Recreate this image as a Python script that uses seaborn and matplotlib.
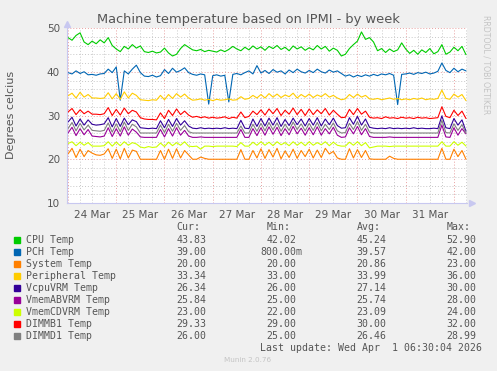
import numpy as np
import pandas as pd
import seaborn as sns
import matplotlib.pyplot as plt
import matplotlib.dates as mdates
from matplotlib.ticker import MultipleLocator, NullFormatter, FuncFormatter

# 2-hourly samples
times = pd.date_range("2026-03-24 00:00", periods=100, freq="2h")

cpu = [47.8, 47.2, 48.3, 48.9, 46.8, 46.2, 47.0, 46.4, 47.3, 46.6, 47.8, 46.0,
       45.2, 44.6, 45.8, 45.2, 46.2, 45.4, 45.9, 44.6, 44.4, 44.7, 44.3, 44.5,
       45.4, 44.3, 43.6, 44.0, 45.3, 46.2, 45.6, 45.0, 44.8, 45.1, 44.6, 44.9,
       44.7, 44.5, 45.0, 44.6, 45.1, 45.8, 45.2, 44.8, 45.6, 45.0, 45.9, 45.2,
       45.7, 44.9, 45.8, 45.3, 46.0, 45.1, 45.6, 44.8, 45.9, 45.2, 45.7, 44.9,
       45.5, 45.0, 46.0, 45.2, 45.8, 44.7, 45.4, 44.9, 43.6, 44.0, 45.3, 46.2,
       47.0, 49.1, 47.4, 47.8, 46.8, 44.8, 45.3, 44.4, 45.2, 44.6, 45.0, 46.6,
       45.2, 44.2, 44.9, 44.0, 45.0, 44.4, 45.3, 44.1, 44.6, 46.2, 44.0, 44.5,
       45.6, 44.8, 45.8, 43.9]
pch = [39.8, 39.5, 40.2, 39.6, 40.0, 39.3, 39.4, 39.2, 39.5, 39.6, 40.6, 39.8,
       41.1, 33.5, 40.2, 39.5, 40.6, 41.5, 39.8, 39.0, 38.9, 39.2, 38.8, 39.1,
       40.5, 39.6, 40.8, 39.9, 40.3, 40.9, 39.8, 39.4, 39.2, 39.5, 39.3, 32.6,
       39.1, 39.3, 39.0, 39.2, 33.1, 39.4, 39.6, 39.3, 39.8, 40.2, 39.5, 41.4,
       39.7, 40.3, 39.6, 40.5, 39.9, 40.2, 39.5, 40.4, 39.8, 40.6, 40.0, 39.7,
       40.3, 39.8, 40.6, 40.0, 39.7, 40.4, 39.9, 40.2, 39.6, 39.0, 39.3, 38.8,
       39.2, 38.9, 39.3, 39.0, 39.4, 39.1, 39.5, 39.3, 39.6, 39.2, 32.5, 39.4,
       39.5, 39.7, 39.4, 39.8, 39.6, 39.9, 39.5, 39.7, 40.1, 42.0, 40.3, 39.8,
       40.8, 40.0, 40.6, 40.2]
system = [21.2, 22.5, 20.4, 22.3, 20.6, 22.0, 21.4, 21.0, 20.9, 21.2, 22.4, 20.2,
          22.3, 20.1, 22.5, 20.3, 22.1, 21.8, 20.0, 20.0, 20.0, 20.0, 20.0, 22.0,
          20.0, 22.3, 20.2, 22.4, 20.3, 22.0, 21.0, 20.0, 20.0, 20.5, 20.2, 20.0,
          20.0, 20.0, 20.0, 20.0, 20.0, 20.0, 20.0, 22.2, 20.0, 20.0, 22.0, 20.3,
          22.4, 20.2, 22.2, 20.5, 22.5, 20.1, 21.9, 20.4, 22.3, 20.2, 22.0, 20.6,
          22.3, 20.3, 22.1, 20.4, 22.5, 21.2, 21.8, 20.3, 20.0, 20.0, 22.4, 20.3,
          22.2, 20.4, 22.0, 20.1, 20.0, 20.0, 20.0, 20.0, 20.7, 20.2, 20.0, 20.0,
          20.0, 20.0, 20.0, 20.0, 20.0, 20.0, 20.0, 20.0, 20.0, 22.5, 20.0, 20.0,
          22.3, 20.6, 22.0, 20.0]
peripheral = [34.5, 35.1, 34.0, 35.3, 34.2, 34.8, 34.0, 34.0, 33.9, 34.0, 35.2, 33.8,
              35.0, 33.7, 35.4, 34.0, 35.1, 34.6, 33.6, 33.5, 33.4, 33.6, 33.5, 34.6,
              33.6, 34.8, 33.9, 35.0, 34.2, 34.9, 34.0, 33.5, 33.6, 33.8, 33.5, 33.7,
              33.4, 33.7, 33.5, 33.6, 33.8, 33.5, 33.6, 34.3, 33.7, 33.9, 34.6, 34.0,
              34.8, 34.0, 35.0, 34.2, 34.9, 34.1, 34.7, 34.3, 35.1, 34.0, 34.8, 34.2,
              34.9, 34.1, 34.7, 34.3, 35.0, 34.2, 34.6, 34.0, 33.6, 33.8, 34.8, 34.1,
              34.9, 34.2, 34.6, 33.8, 33.7, 33.9, 33.6, 33.8, 34.0, 33.7, 33.9, 33.6,
              33.8, 33.6, 33.9, 33.7, 34.0, 33.6, 33.8, 33.7, 33.9, 35.8, 33.9, 33.7,
              34.9, 34.2, 34.8, 33.4]
vcpu = [28.5, 29.6, 27.6, 29.2, 27.8, 29.0, 28.0, 27.8, 27.9, 28.1, 29.5, 27.4,
        29.3, 27.5, 29.4, 27.9, 29.0, 28.6, 27.2, 27.1, 27.0, 27.1, 27.0, 28.8,
        27.2, 29.1, 27.5, 29.3, 27.8, 28.8, 27.6, 27.1, 27.0, 27.2, 27.0, 27.1,
        27.0, 27.1, 27.0, 27.2, 27.0, 27.1, 27.0, 28.9, 27.1, 27.0, 29.2, 27.5,
        29.3, 27.6, 29.4, 27.8, 29.5, 27.5, 29.1, 27.7, 29.4, 27.9, 29.2, 27.6,
        29.3, 27.8, 29.5, 27.6, 29.2, 27.9, 29.4, 27.7, 27.1, 27.2, 29.5, 28.0,
        29.8, 27.8, 29.2, 27.3, 27.1, 27.0, 27.1, 27.0, 27.2, 27.0, 27.1, 27.0,
        27.1, 27.0, 27.2, 27.0, 27.1, 27.0, 27.0, 27.1, 27.0, 29.9, 27.2, 27.0,
        29.3, 27.8, 29.0, 26.4]
vmem_ab = [26.0, 27.3, 25.4, 27.0, 25.6, 26.8, 25.3, 25.2, 25.1, 25.3, 27.2, 25.2,
           27.0, 25.3, 27.4, 25.5, 26.9, 26.2, 25.1, 25.0, 25.0, 25.0, 25.0, 26.8,
           25.1, 27.0, 25.3, 27.2, 25.5, 26.6, 25.3, 25.0, 25.0, 25.1, 25.0, 25.0,
           25.0, 25.0, 25.0, 25.0, 25.0, 25.0, 25.0, 26.8, 25.0, 25.0, 27.0, 25.4,
           27.2, 25.5, 27.4, 25.7, 27.3, 25.4, 27.0, 25.6, 27.5, 25.8, 27.1, 25.5,
           27.2, 25.6, 27.4, 25.5, 27.0, 25.8, 27.3, 25.5, 25.0, 25.1, 27.2, 25.8,
           27.5, 25.6, 27.0, 25.2, 25.0, 25.0, 25.0, 25.0, 25.1, 25.0, 25.0, 25.0,
           25.0, 25.0, 25.0, 25.0, 25.0, 25.0, 25.0, 25.0, 25.0, 27.8, 25.1, 25.0,
           27.2, 25.5, 27.0, 25.8]
vmem_cd = [23.6, 24.0, 23.1, 23.9, 23.2, 23.8, 23.0, 23.0, 23.0, 23.1, 24.0, 23.0,
           23.9, 23.1, 24.0, 23.2, 23.8, 23.5, 22.8, 22.6, 22.9, 22.7, 22.8, 23.7,
           22.9, 23.9, 23.1, 23.8, 23.2, 24.0, 23.0, 22.9, 23.0, 22.3, 23.0, 23.0,
           22.9, 23.0, 23.0, 23.0, 23.0, 23.0, 22.9, 23.8, 23.0, 23.0, 23.9, 23.2,
           24.0, 23.2, 23.9, 23.1, 24.0, 23.3, 23.8, 23.1, 24.0, 23.2, 23.9, 23.1,
           24.0, 23.2, 23.8, 23.3, 24.0, 23.1, 23.9, 23.2, 23.0, 23.0, 23.9, 23.2,
           24.0, 23.1, 23.8, 22.6, 22.8, 23.0, 23.0, 23.0, 22.9, 23.0, 23.0, 23.0,
           23.0, 23.0, 23.0, 23.0, 23.0, 23.0, 23.0, 23.0, 23.0, 24.0, 23.0, 23.0,
           24.0, 23.2, 23.9, 23.0]
dimm_b1 = [30.8, 31.6, 30.2, 31.3, 30.4, 31.0, 30.3, 30.3, 30.2, 30.4, 31.8, 30.0,
           31.4, 30.1, 31.7, 30.4, 31.2, 30.8, 29.5, 29.2, 29.1, 29.1, 29.0, 30.6,
           29.3, 31.2, 30.0, 31.5, 30.2, 31.0, 30.1, 29.6, 29.8, 29.5, 29.7, 29.4,
           29.6, 29.4, 29.5, 29.7, 29.3, 29.6, 29.4, 30.8, 29.5, 29.8, 31.0, 30.2,
           31.3, 30.1, 31.5, 30.4, 31.6, 30.0, 31.2, 30.3, 31.7, 30.2, 31.4, 30.0,
           31.5, 30.2, 31.3, 30.4, 31.6, 30.1, 31.2, 30.3, 29.5, 29.6, 31.4, 30.2,
           31.6, 30.3, 31.0, 29.6, 29.4, 29.5, 29.3, 29.7, 29.4, 29.5, 29.3, 29.6,
           29.4, 29.5, 29.3, 29.6, 29.4, 29.5, 29.3, 29.4, 29.5, 32.0, 29.8, 29.5,
           31.2, 30.0, 31.0, 29.3]
dimm_d1 = [27.0, 28.4, 26.5, 28.2, 26.7, 27.8, 26.6, 26.5, 26.4, 26.6, 28.3, 26.2,
           28.1, 26.3, 28.5, 26.6, 28.0, 27.4, 26.0, 26.0, 26.0, 26.0, 26.0, 27.8,
           26.1, 28.0, 26.4, 28.2, 26.6, 27.7, 26.3, 26.0, 26.0, 26.0, 26.0, 26.0,
           26.0, 26.0, 26.0, 26.0, 26.0, 26.0, 26.0, 27.6, 26.0, 26.0, 28.0, 26.4,
           28.2, 26.5, 28.4, 26.7, 28.3, 26.4, 28.0, 26.6, 28.5, 26.8, 28.1, 26.5,
           28.2, 26.6, 28.4, 26.5, 28.0, 26.8, 28.3, 26.5, 26.0, 26.1, 28.2, 26.8,
           28.6, 26.6, 28.0, 26.2, 26.0, 26.0, 26.0, 26.0, 26.0, 26.0, 26.0, 26.0,
           26.0, 26.0, 26.0, 26.0, 26.0, 26.0, 26.0, 26.0, 26.0, 28.9, 26.1, 26.0,
           28.1, 26.6, 27.9, 26.0]

labels = ["CPU Temp", "PCH Temp", "System Temp", "Peripheral Temp", "VcpuVRM Temp",
          "VmemABVRM Temp", "VmemCDVRM Temp", "DIMMB1 Temp", "DIMMD1 Temp"]
colors = ["#00CC00", "#0066B3", "#FF8000", "#FFCC00", "#330099",
          "#990099", "#CCFF00", "#FF0000", "#808080"]
series = [cpu, pch, system, peripheral, vcpu, vmem_ab, vmem_cd, dimm_b1, dimm_d1]

cur_vals = ["43.83", "39.00", "20.00", "33.34", "26.34", "25.84", "23.00", "29.33", "26.00"]
min_vals = ["42.02", "800.00m", "20.00", "33.00", "26.00", "25.00", "22.00", "29.00", "25.00"]
avg_vals = ["45.24", "39.57", "20.86", "33.99", "27.14", "25.74", "23.09", "30.00", "26.46"]
max_vals = ["52.90", "42.00", "23.00", "36.00", "30.00", "28.00", "24.00", "32.00", "28.99"]

df = pd.concat([pd.DataFrame({"time": times, "temp": s, "sensor": name})
                for name, s in zip(labels, series)], ignore_index=True)

sns.set_style("white")
plt.rcParams['font.family'] = ['DejaVu Sans']

W, H = 497, 371
fig = plt.figure(figsize=(W / 100, H / 100), dpi=100, facecolor="#F0F0F0")
ax = fig.add_axes([67 / W, 1 - 203 / H, 400 / W, 175 / H])
ax.set_facecolor("white")

def px(x, y):
    return x / W, 1 - y / H

sns.lineplot(data=df, x="time", y="temp", hue="sensor", hue_order=labels,
             palette=colors, legend=False, linewidth=0.8, ax=ax)

ax.set_xlim(pd.Timestamp("2026-03-23 23:30"), pd.Timestamp("2026-04-01 06:30"))
ax.set_ylim(10, 50)

# grid: grey every 6h / 2 degrees, pink every day / 10 degrees
ax.xaxis.set_major_locator(mdates.DayLocator())
ax.xaxis.set_major_formatter(NullFormatter())
ax.xaxis.set_minor_locator(mdates.HourLocator(byhour=[6, 12, 18]))
ax.xaxis.set_minor_formatter(FuncFormatter(
    lambda v, pos: mdates.num2date(v).strftime("%d %b") if mdates.num2date(v).hour == 12 else ""))
ax.yaxis.set_major_locator(MultipleLocator(10))
ax.yaxis.set_minor_locator(MultipleLocator(2))

dots = (0, (1, 2))
ax.grid(which="minor", color="#c8c8c8", linestyle=dots, linewidth=0.7)
ax.grid(which="major", color="#e8a0a0", linestyle=dots, linewidth=0.7)
ax.set_axisbelow(True)

ax.tick_params(axis="x", which="major", length=3, color="#e8a0a0", width=0.7)
ax.tick_params(axis="x", which="minor", length=0, pad=5, labelsize=7.5, labelcolor="#555555")
ax.tick_params(axis="y", which="major", length=2, color="#e8a0a0", pad=3,
               labelsize=7.5, labelcolor="#555555")
ax.tick_params(axis="y", which="minor", length=0)

for side in ["top", "right"]:
    ax.spines[side].set_visible(False)
for side in ["left", "bottom"]:
    ax.spines[side].set_color("#c8c8f0")
    ax.spines[side].set_linewidth(0.8)
ax.plot([1.012], [0], marker=">", ms=4, color="#c8c8f0", transform=ax.transAxes, clip_on=False)
ax.plot([0], [1.025], marker="^", ms=4, color="#c8c8f0", transform=ax.transAxes, clip_on=False)
ax.set_xlabel("")
ax.set_ylabel("")

fig.text(*px(248, 19), "Machine temperature based on IPMI - by week",
         ha="center", va="center", fontsize=9.4, color="#555555")
fig.text(*px(11, 115), "Degrees celcius", rotation=90, ha="center", va="center",
         fontsize=8, color="#555555")
fig.text(*px(486, 15), "RRDTOOL / TOBI OETIKER", rotation=270, ha="center", va="top",
         fontsize=5.6, color="#c4c4c4")

# legend table
mono = dict(family="DejaVu Sans Mono", fontsize=7.1, color="#555555", va="center")
cols = [176.7, 266.7, 356.7, 446.7]
for x, head in zip(cols, ["Cur:", "Min:", "Avg:", "Max:"]):
    fig.text(*px(x, 227), head, **mono)
for i, name in enumerate(labels):
    y = 240 + 12 * i
    fig.patches.append(plt.Rectangle(px(14, y + 3), 6 / W, 6 / H, transform=fig.transFigure,
                                     color=colors[i], figure=fig))
    fig.text(*px(26, y), name, **mono)
    for x, vals in zip(cols, [cur_vals, min_vals, avg_vals, max_vals]):
        v = vals[i]
        # rrdtool pads to 6 chars, so a 3-digit value starts one char earlier
        shift = 5.96 if len(v.rstrip("m")) > 5 else 0
        fig.text(*px(x - shift, y), v, **mono)
fig.text(*px(482.5, 348), "Last update: Wed Apr  1 06:30:04 2026", ha="right", **mono)
fig.text(*px(248, 360), "Munin 2.0.76", ha="center", va="center", fontsize=5.2, color="#c4c4c4")

fig.savefig("out.png", dpi=100, facecolor=fig.get_facecolor())
